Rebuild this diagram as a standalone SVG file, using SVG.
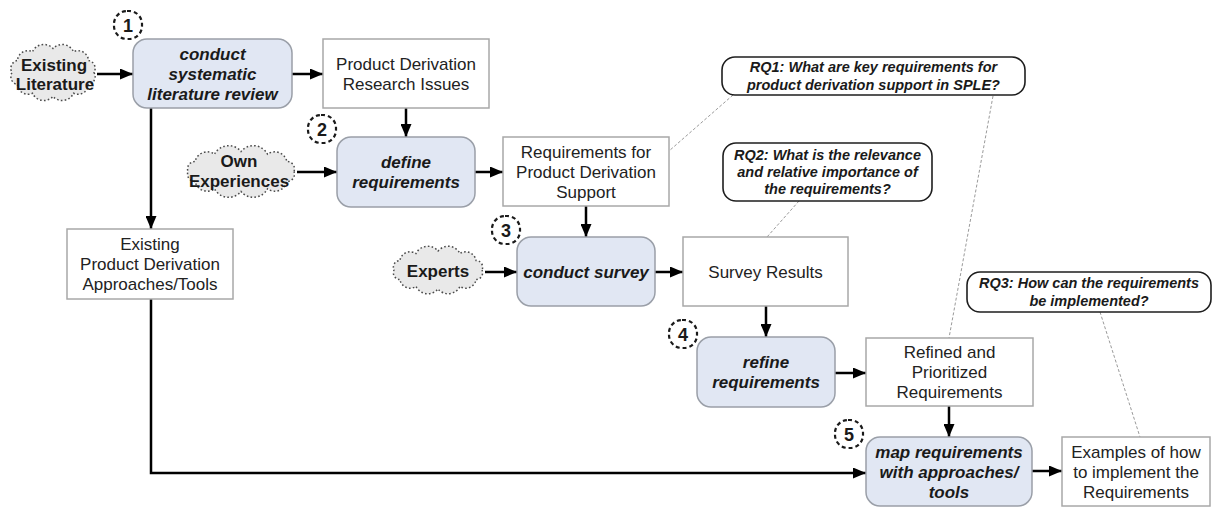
<svg xmlns="http://www.w3.org/2000/svg" width="1213" height="507" viewBox="0 0 1213 507">
  <style>
    .proc { fill: #e1e7f3; stroke: #9a9fa8; stroke-width: 1.5; }
    .box { fill: #ffffff; stroke: #a8a8a8; stroke-width: 1.5; }
    .rq { fill: #ffffff; stroke: #1e1e1e; stroke-width: 1.6; }
    .cloud { fill: #e9e9e9; stroke: #4a4a4a; stroke-width: 1.5; stroke-dasharray: 1.6 2.2; }
    .badge { fill: none; stroke: #1a1a1a; stroke-width: 2.2; stroke-dasharray: 4 3; }
    .flow { fill: none; stroke: #000000; stroke-width: 2.5; marker-end: url(#arrow); }
    .link { fill: none; stroke: #9a9a9a; stroke-width: 1; stroke-dasharray: 3 2; }
    text { font-family: "Liberation Sans", Arial, sans-serif; text-anchor: middle; fill: #1a1a1a; }
    .t-proc { font-size: 17px; font-weight: bold; font-style: italic; }
    .t-box { font-size: 17px; fill: #222222; }
    .t-cloud { font-size: 17px; font-weight: bold; }
    .t-rq { font-size: 14.5px; font-weight: bold; font-style: italic; }
    .t-num { font-size: 18px; font-weight: bold; }
  </style>
  <defs>
    <marker id="arrow" markerUnits="userSpaceOnUse" markerWidth="13" markerHeight="11" refX="13" refY="5.5" orient="auto">
      <path d="M0,0 L13,5.5 L0,11 Z" fill="#000000"/>
    </marker>
  </defs>

  <rect width="1213" height="507" fill="#ffffff"/>

  <!-- connectors -->
  <g id="connectors">
    <line class="flow" x1="97" y1="74" x2="133" y2="74"/>
    <line class="flow" x1="292" y1="74" x2="323" y2="74"/>
    <line class="flow" x1="406" y1="108" x2="406" y2="137"/>
    <line class="flow" x1="297" y1="172" x2="337" y2="172"/>
    <line class="flow" x1="475" y1="172" x2="503" y2="172"/>
    <line class="flow" x1="586" y1="206" x2="586" y2="237"/>
    <line class="flow" x1="485" y1="272" x2="517" y2="272"/>
    <line class="flow" x1="655" y1="272" x2="683" y2="272"/>
    <line class="flow" x1="766" y1="306" x2="766" y2="337"/>
    <line class="flow" x1="835" y1="373" x2="866" y2="373"/>
    <line class="flow" x1="949" y1="406" x2="949" y2="437"/>
    <line class="flow" x1="1032" y1="471" x2="1062" y2="471"/>
    <line class="flow" x1="151" y1="108" x2="151" y2="229"/>
    <polyline class="flow" points="151,299 151,473 866,473"/>
    <!-- research question annotations -->
    <line class="link" x1="733" y1="95" x2="669" y2="151"/>
    <line class="link" x1="993" y1="96" x2="949" y2="338"/>
    <line class="link" x1="799" y1="201" x2="767" y2="237"/>
    <line class="link" x1="1100" y1="312" x2="1140" y2="437"/>
  </g>

  <!-- input clouds -->
  <g id="cloud-literature">
    <path class="cloud" d="M94,72.5 A8,8 0 0 1 88.5,84.5 A10.5,10.5 0 0 1 73.5,93.3 A12.5,12.5 0 0 1 53,96.5 A12.5,12.5 0 0 1 32.5,93.3 A10.5,10.5 0 0 1 17.5,84.5 A8,8 0 0 1 12,72.5 A8,8 0 0 1 17.5,60.5 A10.5,10.5 0 0 1 32.5,51.7 A12.5,12.5 0 0 1 53,48.5 A12.5,12.5 0 0 1 73.5,51.7 A10.5,10.5 0 0 1 88.5,60.5 A8,8 0 0 1 94,72.5 Z"/>
    <text class="t-cloud" x="54" y="71">Existing</text>
    <text class="t-cloud" x="55" y="90">Literature</text>
  </g>
  <g id="cloud-experiences">
    <path class="cloud" d="M294,171.5 A7.4,7.4 0 0 1 286.9,181.5 A12.4,12.4 0 0 1 267.5,188.8 A16,16 0 0 1 241,191.5 A16,16 0 0 1 214.5,188.8 A12.4,12.4 0 0 1 195.1,181.5 A7.4,7.4 0 0 1 188,171.5 A7.4,7.4 0 0 1 195.1,161.5 A12.4,12.4 0 0 1 214.5,154.2 A16,16 0 0 1 241,151.5 A16,16 0 0 1 267.5,154.2 A12.4,12.4 0 0 1 286.9,161.5 A7.4,7.4 0 0 1 294,171.5 Z"/>
    <text class="t-cloud" x="239" y="167">Own</text>
    <text class="t-cloud" x="239" y="187">Experiences</text>
  </g>
  <g id="cloud-experts">
    <path class="cloud" d="M482,270 A6.7,6.7 0 0 1 476.1,279.5 A10.5,10.5 0 0 1 460,286.5 A13.3,13.3 0 0 1 438,289 A13.3,13.3 0 0 1 416,286.5 A10.5,10.5 0 0 1 399.9,279.5 A6.7,6.7 0 0 1 394,270 A6.7,6.7 0 0 1 399.9,260.5 A10.5,10.5 0 0 1 416,253.5 A13.3,13.3 0 0 1 438,251 A13.3,13.3 0 0 1 460,253.5 A10.5,10.5 0 0 1 476.1,260.5 A6.7,6.7 0 0 1 482,270 Z"/>
    <text class="t-cloud" x="438" y="277">Experts</text>
  </g>

  <!-- process steps -->
  <g id="step-1">
    <rect class="proc" x="133" y="39" width="159" height="69" rx="14"/>
    <text class="t-proc" x="212.5" y="59.5">conduct</text>
    <text class="t-proc" x="212.5" y="79.5">systematic</text>
    <text class="t-proc" x="212.5" y="99.5">literature review</text>
    <rect class="badge" x="114" y="11" width="28" height="28" rx="13"/>
    <text class="t-num" x="128" y="31.5">1</text>
  </g>
  <g id="step-2">
    <rect class="proc" x="337" y="137" width="138" height="70" rx="14"/>
    <text class="t-proc" x="406" y="168">define</text>
    <text class="t-proc" x="406" y="188">requirements</text>
    <rect class="badge" x="308" y="115" width="28" height="28" rx="13"/>
    <text class="t-num" x="322" y="135.5">2</text>
  </g>
  <g id="step-3">
    <rect class="proc" x="517" y="237" width="138" height="69" rx="14"/>
    <text class="t-proc" x="586" y="277.5">conduct survey</text>
    <rect class="badge" x="492" y="216" width="28" height="28" rx="13"/>
    <text class="t-num" x="506" y="236.5">3</text>
  </g>
  <g id="step-4">
    <rect class="proc" x="697" y="337" width="138" height="70" rx="14"/>
    <text class="t-proc" x="766" y="368">refine</text>
    <text class="t-proc" x="766" y="388">requirements</text>
    <rect class="badge" x="669" y="320" width="28" height="28" rx="13"/>
    <text class="t-num" x="683" y="340.5">4</text>
  </g>
  <g id="step-5">
    <rect class="proc" x="866" y="437" width="166" height="69" rx="14"/>
    <text class="t-proc" x="949" y="457.5">map requirements</text>
    <text class="t-proc" x="949" y="477.5">with approaches/</text>
    <text class="t-proc" x="949" y="497.5">tools</text>
    <rect class="badge" x="835" y="420" width="28" height="28" rx="13"/>
    <text class="t-num" x="849" y="440.5">5</text>
  </g>

  <!-- artefacts -->
  <g id="research-issues">
    <rect class="box" x="323" y="39" width="166" height="69"/>
    <text class="t-box" x="406" y="69.5">Product Derivation</text>
    <text class="t-box" x="406" y="89.5">Research Issues</text>
  </g>
  <g id="requirements">
    <rect class="box" x="503" y="137" width="166" height="69"/>
    <text class="t-box" x="586" y="157.5">Requirements for</text>
    <text class="t-box" x="586" y="177.5">Product Derivation</text>
    <text class="t-box" x="586" y="197.5">Support</text>
  </g>
  <g id="existing-approaches">
    <rect class="box" x="67" y="229" width="166" height="70"/>
    <text class="t-box" x="150" y="250">Existing</text>
    <text class="t-box" x="150" y="270">Product Derivation</text>
    <text class="t-box" x="150" y="290">Approaches/Tools</text>
  </g>
  <g id="survey-results">
    <rect class="box" x="683" y="237" width="165" height="69"/>
    <text class="t-box" x="765.5" y="277.5">Survey Results</text>
  </g>
  <g id="refined-requirements">
    <rect class="box" x="866" y="338" width="167" height="68"/>
    <text class="t-box" x="949.5" y="358">Refined and</text>
    <text class="t-box" x="949.5" y="378">Prioritized</text>
    <text class="t-box" x="949.5" y="398">Requirements</text>
  </g>
  <g id="implementation-examples">
    <rect class="box" x="1062" y="437" width="148" height="69"/>
    <text class="t-box" x="1136" y="457.5">Examples of how</text>
    <text class="t-box" x="1136" y="477.5">to implement the</text>
    <text class="t-box" x="1136" y="497.5">Requirements</text>
  </g>

  <!-- research questions -->
  <g id="rq1">
    <rect class="rq" x="722" y="57" width="303" height="38" rx="13"/>
    <text class="t-rq" x="873.5" y="72">RQ1: What are key requirements for</text>
    <text class="t-rq" x="873.5" y="90">product derivation support in SPLE?</text>
  </g>
  <g id="rq2">
    <rect class="rq" x="723" y="143" width="209" height="58" rx="13"/>
    <text class="t-rq" x="827.5" y="160">RQ2: What is the relevance</text>
    <text class="t-rq" x="827.5" y="177">and relative importance of</text>
    <text class="t-rq" x="827.5" y="194">the requirements?</text>
  </g>
  <g id="rq3">
    <rect class="rq" x="967" y="272" width="244" height="40" rx="13"/>
    <text class="t-rq" x="1089" y="288">RQ3: How can the requirements</text>
    <text class="t-rq" x="1089" y="306">be implemented?</text>
  </g>
</svg>
